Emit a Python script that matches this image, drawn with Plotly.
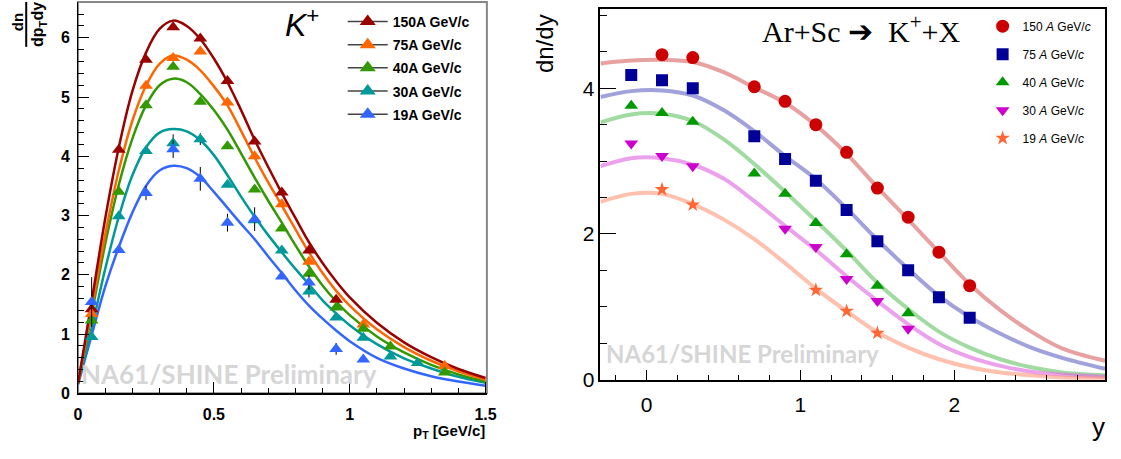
import plotly.graph_objects as go

# ---------------- Left panel: pT spectra ----------------
ENERGIES_L = ["150A GeV/c", "75A GeV/c", "40A GeV/c", "30A GeV/c", "19A GeV/c"]
COLORS_L = ["#990000", "#ff6600", "#339900", "#009999", "#3366ff"]

pt_150 = [0.05, 0.15, 0.25, 0.35, 0.45, 0.55, 0.65, 0.75, 0.85, 0.95]
dn_150 = [1.42, 4.11, 5.63, 6.18, 5.99, 5.27, 4.25, 3.39, 2.41, 1.58]
pt_75 = [0.05, 0.25, 0.35, 0.45, 0.55, 0.65, 0.75, 0.85, 1.05, 1.35]
dn_75 = [1.34, 5.19, 5.66, 5.77, 4.91, 4.00, 3.19, 2.22, 1.16, 0.46]
pt_40 = [0.05, 0.15, 0.25, 0.35, 0.45, 0.55, 0.65, 0.75, 0.85, 0.95, 1.05, 1.15, 1.35]
dn_40 = [1.23, 3.40, 4.86, 5.51, 4.92, 4.17, 3.44, 2.78, 2.02, 1.45, 1.09, 0.79, 0.35]
pt_30 = [0.05, 0.15, 0.25, 0.35, 0.45, 0.55, 0.65, 0.75, 0.85, 0.95, 1.05, 1.15, 1.25]
dn_30 = [0.95, 2.99, 4.09, 4.22, 4.29, 3.52, 2.92, 2.41, 1.72, 1.28, 0.94, 0.62, 0.51]
err_30 = [0.0, 0.0, 0.0, 0.15, 0.1, 0.0, 0.0, 0.0, 0.1, 0.0, 0.0, 0.0, 0.0]
pt_19 = [0.05, 0.15, 0.25, 0.35, 0.45, 0.55, 0.65, 0.75, 0.85, 0.95, 1.05]
dn_19 = [1.54, 2.42, 3.38, 4.12, 3.62, 2.88, 2.94, 1.97, 1.87, 0.75, 0.57]
err_19 = [0.42, 0.0, 0.12, 0.15, 0.2, 0.15, 0.2, 0.0, 0.12, 0.1, 0.0]

fit_pt = [0, 0.05, 0.1, 0.15, 0.2, 0.25, 0.3, 0.35, 0.4, 0.45, 0.5, 0.55, 0.6,
          0.65, 0.7, 0.75, 0.8, 0.85, 0.9, 0.95, 1.0, 1.1, 1.2, 1.3, 1.4, 1.5]
fit_150 = [0.17, 1.55, 2.95, 4.15, 5.1, 5.75, 6.15, 6.29, 6.2, 5.98, 5.65, 5.25, 4.78,
           4.28, 3.82, 3.38, 2.96, 2.55, 2.2, 1.89, 1.62, 1.19, 0.86, 0.61, 0.41, 0.26]
fit_75 = [0.17, 1.42, 2.68, 3.76, 4.6, 5.19, 5.56, 5.70, 5.63, 5.45, 5.18, 4.86, 4.43,
          3.98, 3.56, 3.17, 2.77, 2.38, 2.03, 1.73, 1.48, 1.08, 0.78, 0.55, 0.37, 0.23]
fit_40 = [0.17, 1.33, 2.52, 3.52, 4.3, 4.86, 5.2, 5.31, 5.25, 5.05, 4.78, 4.45, 4.05,
          3.64, 3.25, 2.88, 2.5, 2.14, 1.82, 1.55, 1.32, 0.96, 0.69, 0.48, 0.32, 0.2]
fit_30 = [0.17, 1.1, 2.1, 2.98, 3.68, 4.15, 4.4, 4.46, 4.42, 4.27, 4.02, 3.68, 3.32,
          2.98, 2.67, 2.38, 2.1, 1.84, 1.57, 1.35, 1.15, 0.83, 0.59, 0.42, 0.28, 0.18]
fit_19 = [0.15, 0.98, 1.8, 2.47, 3.05, 3.5, 3.76, 3.84, 3.8, 3.65, 3.4, 3.13, 2.86,
          2.6, 2.31, 2.03, 1.74, 1.48, 1.26, 1.06, 0.88, 0.6, 0.42, 0.29, 0.2, 0.13]

# ---------------- Right panel: rapidity spectra ----------------
ENERGIES_R = ["150 <i>A</i> GeV/<i>c</i>", "75 <i>A</i> GeV/<i>c</i>", "40 <i>A</i> GeV/<i>c</i>",
              "30 <i>A</i> GeV/<i>c</i>", "19 <i>A</i> GeV/<i>c</i>"]
MCOLORS_R = ["#cc0000", "#000099", "#009900", "#cc00cc", "#ff6633"]
LCOLORS_R = ["rgba(220,110,110,0.65)", "rgba(110,110,200,0.65)", "rgba(110,200,110,0.65)",
             "rgba(225,110,225,0.65)", "rgba(255,150,120,0.6)"]
SYMBOLS_R = ["circle", "square", "triangle-up", "triangle-down", "star"]
SIZES_R = [13, 12, 12, 12, 11]

y_150 = [0.1, 0.3, 0.7, 0.9, 1.1, 1.3, 1.5, 1.7, 1.9, 2.1]
dndy_150 = [4.46, 4.42, 4.02, 3.82, 3.50, 3.12, 2.63, 2.23, 1.75, 1.29]
y_75 = [-0.1, 0.1, 0.3, 0.7, 0.9, 1.1, 1.3, 1.5, 1.7, 1.9, 2.1]
dndy_75 = [4.18, 4.11, 4.00, 3.34, 3.03, 2.73, 2.33, 1.90, 1.50, 1.13, 0.85]
y_40 = [-0.1, 0.1, 0.3, 0.7, 0.9, 1.1, 1.3, 1.5, 1.7]
dndy_40 = [3.76, 3.66, 3.54, 2.83, 2.55, 2.15, 1.72, 1.29, 0.91]
y_30 = [-0.1, 0.1, 0.3, 0.9, 1.1, 1.3, 1.5, 1.7]
dndy_30 = [3.24, 3.07, 2.93, 2.07, 1.82, 1.38, 1.08, 0.70]
y_19 = [0.1, 0.3, 1.1, 1.3, 1.5]
dndy_19 = [2.61, 2.40, 1.23, 0.94, 0.64]

fit_y = [-0.3, -0.1, 0.1, 0.3, 0.5, 0.7, 0.9, 1.1, 1.3, 1.5, 1.7, 1.9, 2.1, 2.3, 2.5, 2.7, 2.98]
fity_150 = [4.34, 4.38, 4.39, 4.36, 4.22, 4.01, 3.8, 3.49, 3.1, 2.64, 2.2, 1.75, 1.31, 0.95, 0.66, 0.43, 0.26]
fity_75 = [3.88, 3.96, 3.97, 3.9, 3.7, 3.41, 3.07, 2.75, 2.35, 1.92, 1.52, 1.15, 0.86, 0.63, 0.44, 0.3, 0.15]
fity_40 = [3.53, 3.64, 3.65, 3.55, 3.3, 2.96, 2.58, 2.18, 1.77, 1.33, 0.97, 0.66, 0.44, 0.28, 0.17, 0.1, 0.06]
fity_30 = [2.93, 3.04, 3.04, 2.95, 2.76, 2.45, 2.11, 1.78, 1.42, 1.08, 0.76, 0.49, 0.31, 0.19, 0.11, 0.07, 0.04]
fity_19 = [2.44, 2.55, 2.55, 2.41, 2.2, 1.93, 1.6, 1.25, 0.94, 0.65, 0.44, 0.28, 0.17, 0.1, 0.06, 0.03, 0.02]

W, H = 1121, 459
fig = go.Figure()

# left fits
for fy, c in zip([fit_19, fit_30, fit_40, fit_75, fit_150], COLORS_L[::-1]):
    fig.add_trace(go.Scatter(x=fit_pt, y=fy, mode="lines", line=dict(color=c, width=2.5, shape="spline"),
                             showlegend=False, hoverinfo="skip", xaxis="x", yaxis="y"))

# left points
left_pts = [(pt_150, dn_150, None), (pt_75, dn_75, None), (pt_40, dn_40, None),
            (pt_30, dn_30, err_30), (pt_19, dn_19, err_19)]
for (px, py, pe), c in zip(left_pts, COLORS_L):
    fig.add_trace(go.Scatter(
        x=px, y=py, mode="markers",
        marker=dict(symbol="triangle-up", size=12, color=c),
        error_y=dict(type="data", array=pe, color="black", thickness=1, width=0, visible=pe is not None),
        showlegend=False, xaxis="x", yaxis="y"))

# left legend entries
for name, c in zip(ENERGIES_L, COLORS_L):
    fig.add_trace(go.Scatter(x=[None], y=[None], mode="lines+markers", name=name,
                             line=dict(color="#444444", width=1.5),
                             marker=dict(symbol="triangle-up", size=14, color=c),
                             legend="legend", legendgroup=name, xaxis="x", yaxis="y"))

# right fits
for fy, c in zip([fity_150, fity_75, fity_40, fity_30, fity_19], LCOLORS_R):
    fig.add_trace(go.Scatter(x=fit_y, y=fy, mode="lines", line=dict(color=c, width=4, shape="spline"),
                             showlegend=False, hoverinfo="skip", xaxis="x2", yaxis="y2"))

# right points
right_pts = [(y_150, dndy_150), (y_75, dndy_75), (y_40, dndy_40), (y_30, dndy_30), (y_19, dndy_19)]
for (rx, ry), c, s, sz, name in zip(right_pts, MCOLORS_R, SYMBOLS_R, SIZES_R, ENERGIES_R):
    fig.add_trace(go.Scatter(x=rx, y=ry, mode="markers", name=name,
                             marker=dict(symbol=s, size=sz, color=c, line=dict(width=0)),
                             legend="legend2", legendgroup="r" + name, xaxis="x2", yaxis="y2"))

def px2x(p):
    return p / W

def py2y(p):
    return 1 - p / H

tick_font_l = dict(family="Liberation Sans", size=16, color="black", weight="bold")
tick_font_r = dict(family="Liberation Sans", size=21, color="black")

fig.update_layout(
    width=W, height=H,
    margin=dict(l=0, r=0, t=0, b=0),
    paper_bgcolor="white", plot_bgcolor="white",
    xaxis=dict(domain=[px2x(75), px2x(489)], range=[0, 1.505], anchor="y",
               tickvals=[0, 0.5, 1, 1.5], ticktext=["0", "0.5", "1", "1.5"],
               ticks="inside", ticklen=11, tickcolor="black", tickwidth=1,
               minor=dict(dtick=0.1, ticklen=5, ticks="inside", tickcolor="black"),
               showline=True, linecolor="black", linewidth=2, showgrid=False, zeroline=False,
               tickfont=tick_font_l, ticklabelstandoff=5),
    yaxis=dict(domain=[py2y(403), py2y(2)], range=[0, 6.605], anchor="x",
               dtick=1, ticks="inside", ticklen=11, tickcolor="black",
               minor=dict(dtick=0.2, ticklen=6, ticks="inside", tickcolor="black"),
               showline=True, linecolor="black", linewidth=1, showgrid=False, zeroline=False,
               tickfont=tick_font_l, ticklabelstandoff=4),
    xaxis2=dict(domain=[px2x(604), px2x(1115)], range=[-0.3, 2.98], anchor="y2",
                dtick=1, ticks="inside", ticklen=10, tickcolor="black",
                minor=dict(dtick=0.2, ticklen=5, ticks="inside", tickcolor="black"),
                showline=True, mirror=True, linecolor="black", linewidth=1.5,
                showgrid=False, zeroline=False, tickfont=tick_font_r, ticklabelstandoff=5),
    yaxis2=dict(domain=[py2y(389), py2y(9)], range=[0, 5.09], anchor="x2",
                dtick=2, ticks="inside", ticklen=16, tickcolor="black",
                minor=dict(dtick=0.5, ticklen=7, ticks="inside", tickcolor="black"),
                showline=True, mirror=True, linecolor="black", linewidth=1.5,
                showgrid=False, zeroline=False, tickfont=tick_font_r),
    legend=dict(x=px2x(343), y=py2y(6), xanchor="left", yanchor="top",
                bgcolor="rgba(0,0,0,0)", itemwidth=40, tracegroupgap=2,
                font=dict(family="Liberation Sans", size=14, color="black", weight="bold")),
    legend2=dict(x=px2x(991), y=py2y(12), xanchor="left", yanchor="top",
                 bgcolor="rgba(0,0,0,0)", tracegroupgap=9,
                 font=dict(family="Liberation Sans", size=12, color="black")),
    showlegend=True,
)

# frame of left panel (gray top/right)
fig.add_shape(type="rect", xref="x domain", yref="y domain", x0=0, x1=1, y0=0, y1=1,
              line=dict(color="#888888", width=2), layer="below")
# fraction bar of left y title
fig.add_shape(type="line", xref="paper", yref="paper", x0=px2x(22.5), x1=px2x(22.5),
              y0=py2y(2), y1=py2y(48), line=dict(color="black", width=2))

def note(x, y, text, size, xanchor="center", angle=0, **fk):
    return dict(x=px2x(x), y=py2y(y), xref="paper", yref="paper", text=text, textangle=angle,
                xanchor=xanchor, yanchor="middle", showarrow=False,
                font=dict(size=size, color=fk.pop("color", "black"), **fk))

ann = [
    note(14, 23, "dn", 15, angle=-90, family="Liberation Sans", weight="bold"),
    note(35, 25, "dp<sub>T</sub>dy", 16, angle=-90, family="Liberation Sans", weight="bold"),
    note(489, 442, "p<sub>T</sub> [GeV/c]", 15, xanchor="right", family="Liberation Sans", weight="bold"),
    note(302, 24, "<i>K</i><sup>+</sup>", 32, family="Liberation Sans"),
    note(228, 383, "NA61/SHINE Preliminary", 26, family="Lato", weight="bold", color="#d6d6d6"),
    note(748, 362, "NA61/SHINE Preliminary", 24, family="Lato", weight="bold", color="#d6d6d6"),
    note(548, 45, "dn/dy", 24, angle=-90, family="Liberation Sans"),
    note(1108, 437, "y", 26, family="Liberation Sans"),
    note(868, 30, "Ar+Sc ➔  K<sup>+</sup>+X", 30, family="Liberation Serif"),
]
fig.update_layout(annotations=ann)

fig.write_html("out.html")
